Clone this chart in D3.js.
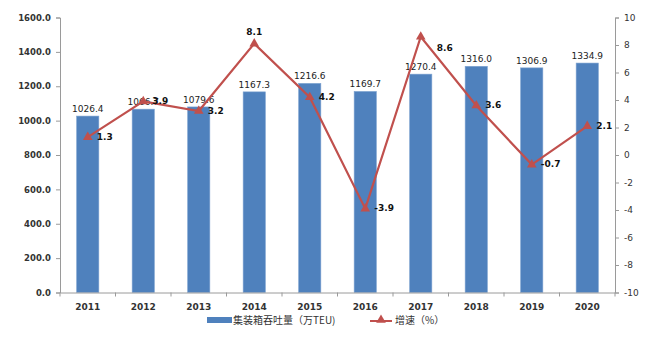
<!DOCTYPE html>
<html><head><meta charset="utf-8">
<script src="https://cdn.jsdelivr.net/npm/d3@7"></script>
<style>body{margin:0;background:#fff}svg{display:block}</style>
</head><body><svg id="c" width="660" height="337"></svg>
<script>
const years = ["2011","2012","2013","2014","2015","2016","2017","2018","2019","2020"];
const throughput = [1026.4,1066.7,1079.6,1167.3,1216.6,1169.7,1270.4,1316.0,1306.9,1334.9];
const growth = [1.3,3.9,3.2,8.1,4.2,-3.9,8.6,3.6,-0.7,2.1];
const leftTicks = [0,200,400,600,800,1000,1200,1400,1600];
const rightTicks = [-10,-8,-6,-4,-2,0,2,4,6,8,10];
const seriesNames = ["集装箱吞吐量（万TEU)","增速（%）"];

const svg = d3.select("#c");
const L=60, R=615, T=17.5, B=292.5;
const x = d3.scaleBand().domain(years).range([L,R]).paddingInner(0.6).paddingOuter(0.3);
const yL = d3.scaleLinear().domain([0,1600]).range([B,T]);
const yR = d3.scaleLinear().domain([-10,10]).range([B,T]);
const font = "'DejaVu Sans', Verdana, sans-serif";
const blue="#4F81BD", red="#C0504D", axisC="#9a9a9a";

// bars
svg.append("g").selectAll("rect").data(years).join("rect")
  .attr("x",d=>x(d)).attr("width",x.bandwidth())
  .attr("y",(d,i)=>yL(throughput[i])).attr("height",(d,i)=>B-yL(throughput[i]))
  .attr("fill",blue).attr("stroke","#7da2d0").attr("stroke-width",0.6);

// left axis
const gl = svg.append("g").attr("transform",`translate(${L},0)`)
  .call(d3.axisLeft(yL).tickValues(leftTicks).tickFormat(d3.format(".1f")).tickSize(4).tickPadding(5));
// right axis
const gr = svg.append("g").attr("transform",`translate(${R},0)`)
  .call(d3.axisRight(yR).tickValues(rightTicks).tickFormat(d=>d).tickSize(4).tickPadding(5));
// bottom axis
const gb = svg.append("g").attr("transform",`translate(0,${B})`)
  .call(d3.axisBottom(x).tickSize(0).tickPadding(11));
// category boundary ticks
const step = x.step();
svg.append("g").selectAll("line").data(d3.range(years.length+1)).join("line")
  .attr("x1",i=>L+i*(R-L)/years.length).attr("x2",i=>L+i*(R-L)/years.length)
  .attr("y1",B).attr("y2",B+4).attr("stroke",axisC);
[gl,gr,gb].forEach(g=>{
  g.selectAll("path.domain,line").attr("stroke",axisC);
  g.selectAll("text").attr("font-family",font).attr("font-size",8.5).attr("fill","#333").attr("font-weight","bold");
});
gb.selectAll("text").attr("font-size",9);
gr.selectAll("text").attr("font-weight","normal").attr("font-size",9);

// bar labels
svg.append("g").selectAll("text").data(years).join("text")
  .attr("x",d=>x(d)+x.bandwidth()/2).attr("y",(d,i)=>yL(throughput[i])-4)
  .attr("text-anchor","middle").attr("font-family",font).attr("font-size",9).attr("fill","#222")
  .text((d,i)=>throughput[i].toFixed(1));

// line
const cx = d=>x(d)+x.bandwidth()/2;
const line = d3.line().x((d,i)=>cx(years[i])).y(d=>yR(d));
svg.append("path").datum(growth).attr("d",line).attr("fill","none").attr("stroke",red).attr("stroke-width",2.2);
const tri = d3.symbol().type(d3.symbolTriangle).size(40);
svg.append("g").selectAll("path").data(growth).join("path")
  .attr("d",tri).attr("transform",(d,i)=>`translate(${cx(years[i])},${yR(d)})`).attr("fill",red);

// line labels (placement: default right of point)
const place = {3:[0,-11,"middle"],6:[16,12,"start"]};
svg.append("g").selectAll("text").data(growth).join("text")
  .attr("x",(d,i)=>cx(years[i])+(place[i]?place[i][0]:9))
  .attr("y",(d,i)=>yR(d)+(place[i]?place[i][1]:0))
  .attr("text-anchor",(d,i)=>place[i]?place[i][2]:"start")
  .attr("dominant-baseline","middle")
  .attr("font-family",font).attr("font-size",9).attr("font-weight","bold").attr("fill","#111")
  .text(d=>d.toFixed(1));

// legend
const lg = svg.append("g").attr("font-family","'Noto Sans CJK SC', sans-serif").attr("font-size",10).attr("fill","#333");
lg.append("rect").attr("x",207).attr("y",317).attr("width",25).attr("height",6).attr("fill",blue);
lg.append("text").attr("x",233).attr("y",321).attr("dominant-baseline","middle").text(seriesNames[0]);
lg.append("line").attr("x1",370).attr("x2",392).attr("y1",321).attr("y2",321).attr("stroke",red).attr("stroke-width",2);
lg.append("path").attr("d",tri).attr("transform","translate(381,320)").attr("fill",red);
lg.append("text").attr("x",395).attr("y",321).attr("dominant-baseline","middle").text(seriesNames[1]);
</script></body></html>
